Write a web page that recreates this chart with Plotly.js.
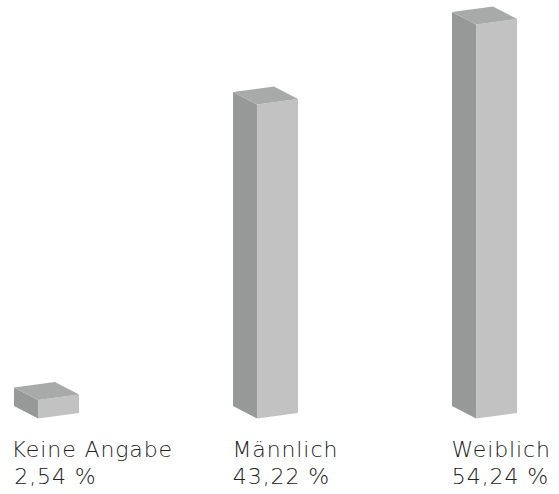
<!DOCTYPE html>
<html>
<head>
<meta charset="utf-8">
<script src="https://cdn.plot.ly/plotly-3.0.1.min.js"></script>
<style>html,body{margin:0;padding:0;background:#fff;}#chart{width:559px;height:494px;}
#chart .annotation-text{letter-spacing:0.9px;}</style>
</head>
<body>
<div id="chart"></div>
<script>
// Data
const categories = ["Keine Angabe", "Männlich", "Weiblich"];
const values = [2.54, 43.22, 54.24];
const valueLabels = ["2,54 %", "43,22 %", "54,24 %"];

// Box styling (in axis units)
const sideW = 0.11;    // left face width (x units)
const frontW = 0.187;  // front face width (x units)
const sideDrop = 1.72; // left-back corner raised (y units)
const frontRise = 0.76; // right corner raised (y units)
const colLeft = "#979998", colFront = "#c1c2c1", colTop = "#a8aaa9";

const traces = [];
function poly(xs, ys, color) {
  traces.push({type: "scatter", mode: "lines", x: xs.concat([xs[0]]), y: ys.concat([ys[0]]),
    fill: "toself", fillcolor: color, line: {width: 0, color: color}, hoverinfo: "skip", showlegend: false});
}
categories.forEach((c, i) => {
  const v = values[i];
  const x0 = i, x1 = i + sideW, x2 = i + sideW + frontW, xb = i + frontW;
  poly([x0, x1, x1, x0], [sideDrop, 0, v, v + sideDrop], colLeft);
  poly([x1, x2, x2, x1], [0, frontRise, v + frontRise, v], colFront);
  poly([x0, x1, x2, xb], [v + sideDrop, v, v + frontRise, v + sideDrop + frontRise], colTop);
});

const labFont = {family: "DejaVu Sans", size: 22, color: "#222222", weight: 200};
const annotations = [];
categories.forEach((c, i) => {
  annotations.push({x: i + 0.006, y: -2.3, xref: "x", yref: "y", xanchor: "left", yanchor: "top",
    text: c, showarrow: false, font: labFont});
  annotations.push({x: i + 0.006, y: -2.3 - 3.72, xref: "x", yref: "y", xanchor: "left", yanchor: "top",
    text: valueLabels[i], showarrow: false, font: labFont});
});

const pxPerX = 219, pxPerY = 7.265, left = 14, base = 418.5;
const layout = {
  width: 559, height: 494, margin: {l: 0, r: 0, t: 0, b: 0},
  paper_bgcolor: "#ffffff", plot_bgcolor: "#ffffff",
  xaxis: {range: [-left / pxPerX, (559 - left) / pxPerX], visible: false, fixedrange: true},
  yaxis: {range: [-(494 - base) / pxPerY, base / pxPerY], visible: false, fixedrange: true},
  annotations: annotations, showlegend: false
};
Plotly.newPlot("chart", traces, layout, {staticPlot: true});
</script>
</body>
</html>
